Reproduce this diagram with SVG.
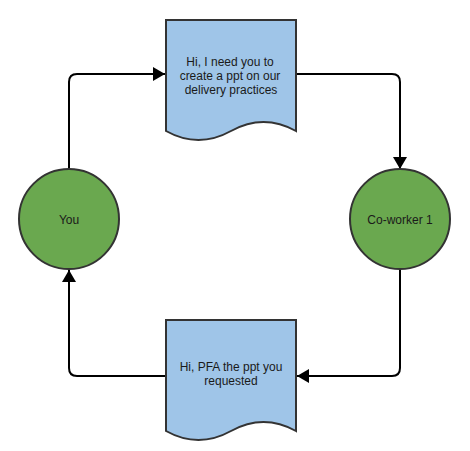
<svg xmlns="http://www.w3.org/2000/svg" width="470" height="451" viewBox="0 0 470 451">
<style>
.doc{fill:#9fc5e8;stroke:#333333;stroke-width:2}
.circ{fill:#6aa84f;stroke:#333333;stroke-width:2}
.lbl{font-family:"Liberation Sans",Arial,sans-serif;font-size:12px;fill:#1a1a1a;text-anchor:middle}
.edge{fill:none;stroke:#000000;stroke-width:2}
</style>
<defs>
<marker id="arr" markerWidth="13" markerHeight="14" refX="12" refY="7" orient="auto" markerUnits="userSpaceOnUse">
<path d="M0,0 L12,7 L0,14 Z" fill="#000000"/>
</marker>
</defs>
<rect width="470" height="451" fill="#ffffff"/>
<g id="edges">
<path class="edge" d="M69,169 V82 Q69,74 77,74 H165" marker-end="url(#arr)"/>
<path class="edge" d="M297,74 H392 Q400,74 400,82 V169" marker-end="url(#arr)"/>
<path class="edge" d="M400,270 V368 Q400,376 392,376 H297" marker-end="url(#arr)"/>
<path class="edge" d="M165,376 H77 Q69,376 69,368 V270" marker-end="url(#arr)"/>
</g>
<g id="doc-request">
<path class="doc" d="M166,20 H296 V131 Q263.5,113 231,131 Q198.5,149 166,131 Z"/>
<text class="lbl" x="230" y="66">Hi, I need you to</text>
<text class="lbl" x="230" y="80">create a ppt on our</text>
<text class="lbl" x="231" y="94">delivery practices</text>
</g>
<g id="doc-reply">
<path class="doc" d="M166,320 H296 V431 Q263.5,413 231,431 Q198.5,449 166,431 Z"/>
<text class="lbl" x="231" y="370.5">Hi, PFA the ppt you</text>
<text class="lbl" x="231" y="384.5">requested</text>
</g>
<g id="you">
<circle class="circ" cx="69" cy="219" r="50"/>
<text class="lbl" x="69" y="223.5">You</text>
</g>
<g id="coworker">
<circle class="circ" cx="400" cy="219" r="50"/>
<text class="lbl" x="400" y="223.5">Co-worker 1</text>
</g>
</svg>
